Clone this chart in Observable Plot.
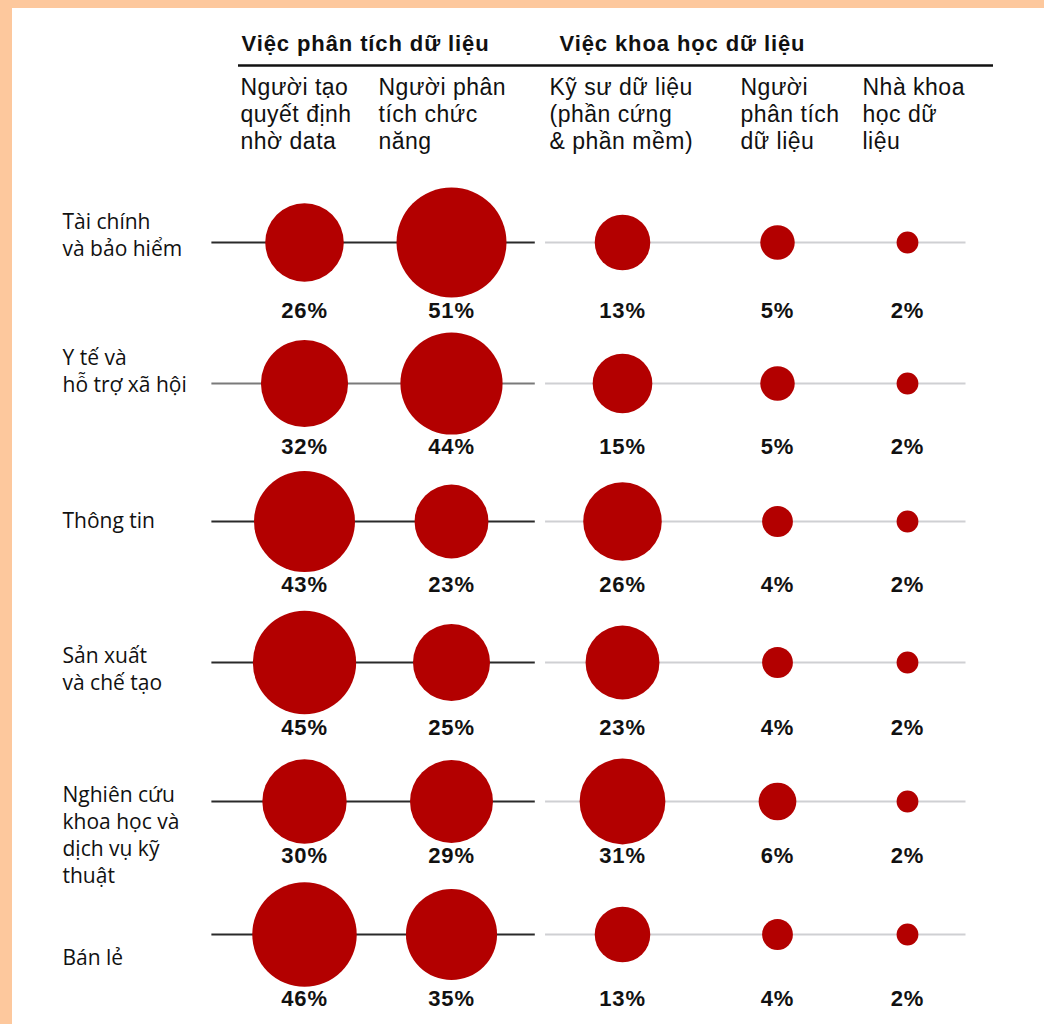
<!DOCTYPE html>
<html>
<head>
<meta charset="utf-8">
<script src="https://cdn.jsdelivr.net/npm/d3@7"></script>
<script src="https://cdn.jsdelivr.net/npm/@observablehq/plot@0.6"></script>
<style>
html, body { margin: 0; padding: 0; background: #fff; }
#wrap { position: relative; width: 1044px; height: 1024px; overflow: hidden; background: #fff; }
#wrap::before { content: ""; position: absolute; left: 0; top: 0; width: 100%; height: 8px; background: #fdc89d; z-index: 2; }
#wrap::after { content: ""; position: absolute; left: 0; top: 0; width: 12px; height: 100%; background: #fdc89d; z-index: 2; }
#wrap svg { display: block; }
</style>
</head>
<body>
<div id="wrap"></div>
<script>
// ---- Data ----
const groups = ["Việc phân tích dữ liệu", "Việc khoa học dữ liệu"];
const groupFirstRole = [0, 2];
const roles = [
  "Người tạo\nquyết định\nnhờ data",
  "Người phân\ntích chức\nnăng",
  "Kỹ sư dữ liệu\n(phần cứng\n& phần mềm)",
  "Người\nphân tích\ndữ liệu",
  "Nhà khoa\nhọc dữ\nliệu"
];
const industries = [
  "Tài chính\nvà bảo hiểm",
  "Y tế và\nhỗ trợ xã hội",
  "Thông tin",
  "Sản xuất\nvà chế tạo",
  "Nghiên cứu\nkhoa học và\ndịch vụ kỹ\nthuật",
  "Bán lẻ"
];
const decisionMakers     = [26, 32, 43, 45, 30, 46];
const functionalAnalysts = [51, 44, 23, 25, 29, 35];
const dataEngineers      = [13, 15, 26, 23, 31, 13];
const dataAnalysts       = [5, 5, 4, 4, 6, 4];
const dataScientists     = [2, 2, 2, 2, 2, 2];

const series = [decisionMakers, functionalAnalysts, dataEngineers, dataAnalysts, dataScientists];
const table = industries.flatMap((ind, i) =>
  series.map((s, j) => ({industry: i, role: j, value: s[i]}))
);

// ---- Styling / layout ----
const RED = "#b30000";
const headFont = "Liberation Sans, Arial, Helvetica, sans-serif";
const labelFont = "Open Sans, sans-serif";
const headerDx = [-64, -73, -73, -37, -45];
const labelDy = [-9, -14, -2, 5, 32, 22];
const pctDy = [68, 63, 63, 65, 54, 64];
const leftRuleColor = ["#2a2a2a", "#7a7a7a", "#2a2a2a", "#2a2a2a", "#2a2a2a", "#2a2a2a"];
const rowIdx = industries.map((d, i) => i);

const marks = [];

// row rules
marks.push(Plot.ruleY(rowIdx, {y: d => d, x1: () => -0.63, x2: () => 1.49, stroke: d => leftRuleColor[d], strokeWidth: 2}));
marks.push(Plot.ruleY(rowIdx, {y: d => d, x1: () => 1.55, x2: () => 4.45, stroke: "#cfd0d3", strokeWidth: 2}));

// circles
marks.push(Plot.dot(table, {x: "role", y: "industry", r: "value", fill: RED, stroke: "none"}));

// percentage labels
rowIdx.forEach(i => {
  marks.push(Plot.text(table.filter(d => d.industry === i), {
    x: "role", y: "industry", text: d => d.value + "%", dy: pctDy[i],
    fontFamily: headFont, fontWeight: "bold", fontSize: 22, fill: "#111",
    lineAnchor: "middle"
  }));
});

// row labels
rowIdx.forEach(i => {
  marks.push(Plot.text([industries[i]], {
    y: () => i, text: d => d, frameAnchor: "left", dx: 62, dy: labelDy[i],
    textAnchor: "start", lineAnchor: "middle", lineHeight: 1.29,
    fontFamily: labelFont, fontSize: 21, fill: "#111"
  }));
});

// group headers
marks.push(Plot.text(groups, {
  x: (d, i) => groupFirstRole[i], text: d => d, frameAnchor: "top", dy: 43, dx: -63,
  textAnchor: "start", lineAnchor: "middle",
  fontFamily: headFont, fontWeight: "bold", fontSize: 22, fill: "#111"
}));

// column headers
roles.forEach((r, j) => {
  marks.push(Plot.text([r], {
    x: () => j, text: d => d, frameAnchor: "top", dy: 113, dx: headerDx[j],
    textAnchor: "start", lineAnchor: "middle", lineHeight: 1.18,
    fontFamily: headFont, fontSize: 23, fill: "#111"
  }));
});

// header rule
marks.push((index, scales) => {
  const x = scales.x;
  const line = d3.create("svg:line")
    .attr("x1", x(0) - 66).attr("x2", x(4) + 86)
    .attr("y1", 65.5).attr("y2", 65.5)
    .attr("stroke", "#111").attr("stroke-width", 2.5);
  return line.node();
});

const chart = Plot.plot({
  width: 1044,
  height: 1024,
  margin: 0,
  style: {background: "transparent"},
  x: {type: "linear", domain: [0, 1, 2, 3, 4], range: [304, 451, 622, 777, 907], axis: null},
  y: {type: "linear", domain: [0, 1, 2, 3, 4, 5], range: [242, 383, 521, 662, 801, 934], axis: null},
  r: {type: "sqrt", domain: [0, 51], range: [0, 55]},
  color: {type: "identity"},
  marks
});

// letter spacing to match the wide lettering of the reference
d3.select(chart).selectAll('g[font-weight="bold"]').attr("letter-spacing", "0.9px");
d3.select(chart).selectAll('g[font-size="23"]').attr("letter-spacing", "0.5px");

document.getElementById("wrap").appendChild(chart);
</script>
</body>
</html>
